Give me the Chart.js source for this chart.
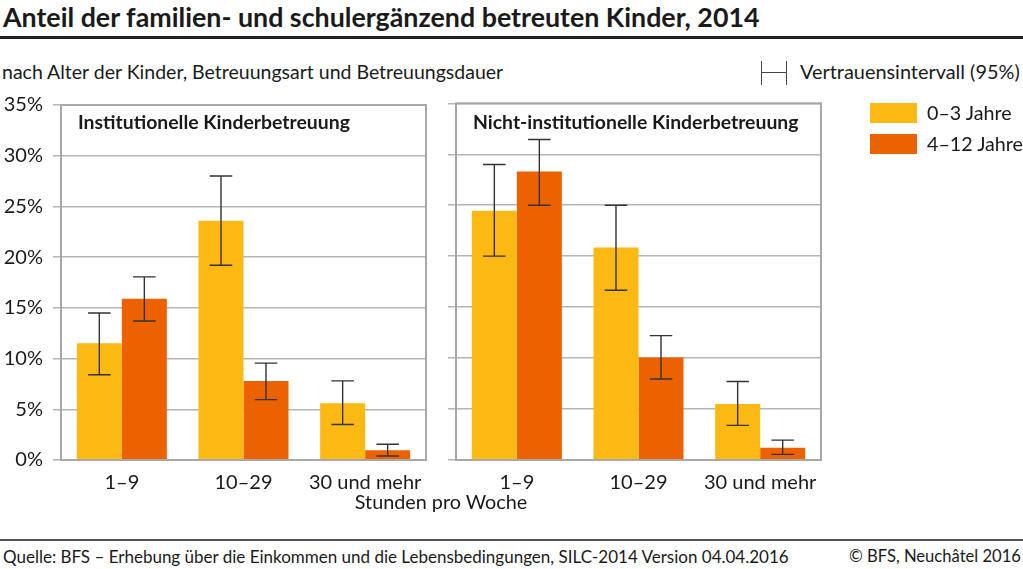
<!DOCTYPE html>
<html>
<head>
<meta charset="utf-8">
<script src="https://cdn.jsdelivr.net/npm/chart.js@4.4.1/dist/chart.umd.min.js"></script>
<style>
  html, body { margin:0; padding:0; background:#fff; }
  body { width:1023px; height:569px; position:relative; overflow:hidden; font-family: Lato, "Open Sans", sans-serif; color:#1a1a1a; }
  .t { position:absolute; white-space:nowrap; line-height:1; }
  canvas { position:absolute; }
</style>
</head>
<body>
<div class="t" id="title" style="left:3px; top:4px; font-size:26.8px; font-weight:bold;">Anteil der familien- und schulergänzend betreuten Kinder, 2014</div>
<div style="position:absolute; left:0; top:36px; width:1023px; height:3px; background:#222;"></div>
<div class="t" id="sub" style="left:2px; top:62px; font-size:19.5px;">nach Alter der Kinder, Betreuungsart und Betreuungsdauer</div>

<!-- CI legend icon -->
<div style="position:absolute; left:761px; top:61px; width:1.2px; height:24px; background:#444;"></div>
<div style="position:absolute; left:786px; top:61px; width:1.2px; height:24px; background:#444;"></div>
<div style="position:absolute; left:761px; top:72px; width:26px; height:1.2px; background:#444;"></div>
<div class="t" style="left:800px; top:62px; font-size:19.9px;">Vertrauensintervall (95%)</div>

<canvas id="c1" width="440" height="417" style="left:0; top:83px;"></canvas>
<canvas id="c2" width="440" height="417" style="left:440px; top:83px;"></canvas>

<div class="t" style="left:78px; top:112px; font-size:19.4px; font-weight:bold;">Institutionelle Kinderbetreuung</div>
<div class="t" style="left:473px; top:112px; font-size:19.4px; font-weight:bold;">Nicht-institutionelle Kinderbetreuung</div>

<div style="position:absolute; left:870px; top:103px; width:47px; height:20px; background:#FDB913;"></div>
<div class="t" style="left:927px; top:103px; font-size:19.7px;">0–3 Jahre</div>
<div style="position:absolute; left:870px; top:134px; width:47px; height:20px; background:#EC6100;"></div>
<div class="t" style="left:927px; top:134px; font-size:19.7px;">4–12 Jahre</div>

<div class="t" style="left:441px; top:492px; font-size:19.8px; transform:translateX(-50%);">Stunden pro Woche</div>

<div style="position:absolute; left:0; top:539px; width:1023px; height:2px; background:#555;"></div>
<div class="t" style="left:3px; top:548px; font-size:17px;">Quelle: BFS – Erhebung über die Einkommen und die Lebensbedingungen, SILC-2014 Version 04.04.2016</div>
<div class="t" style="right:2px; top:548px; font-size:16.6px;">© BFS, Neuchâtel 2016</div>

<script>
const categories = ['1–9', '10–29', '30 und mehr'];
const seriesNames = ['0–3 Jahre', '4–12 Jahre'];
const yTicks = [0, 5, 10, 15, 20, 25, 30, 35];

// Institutionelle Kinderbetreuung
const instYoung     = [11.5, 23.6, 5.6];
const instYoungLow  = [8.4, 19.2, 3.5];
const instYoungHigh = [14.5, 28.0, 7.8];
const instOld       = [15.9, 7.8, 0.95];
const instOldLow    = [13.7, 5.95, 0.4];
const instOldHigh   = [18.05, 9.55, 1.55];

// Nicht-institutionelle Kinderbetreuung
const nonYoung      = [24.45, 20.85, 5.5];
const nonYoungLow   = [20.0, 16.65, 3.4];
const nonYoungHigh  = [29.0, 25.0, 7.7];
const nonOld        = [28.3, 10.05, 1.2];
const nonOldLow     = [25.0, 7.95, 0.55];
const nonOldHigh    = [31.45, 12.2, 1.95];

const YELLOW = '#FDB913';
const ORANGE = '#EC6100';
const FONT = 'Lato, "Open Sans", sans-serif';

const errorBars = {
  id: 'errorBars',
  afterDatasetsDraw(chart) {
    const ctx = chart.ctx;
    const ys = chart.scales.y;
    ctx.save();
    ctx.strokeStyle = '#333';
    ctx.lineWidth = 1.4;
    chart.data.datasets.forEach((ds, i) => {
      const meta = chart.getDatasetMeta(i);
      meta.data.forEach((el, j) => {
        const x = el.x;
        const hw = el.width / 4;
        const yl = ys.getPixelForValue(ds.low[j]);
        const yh = ys.getPixelForValue(ds.high[j]);
        ctx.beginPath();
        ctx.moveTo(x, yl); ctx.lineTo(x, yh);
        ctx.moveTo(x - hw, yl); ctx.lineTo(x + hw, yl);
        ctx.moveTo(x - hw, yh); ctx.lineTo(x + hw, yh);
        ctx.stroke();
      });
    });
    ctx.restore();
  }
};

const frame = {
  id: 'frame',
  afterDraw(chart) {
    const a = chart.chartArea;
    const ys = chart.scales.y;
    const top = ys.getPixelForValue(ys.max);
    const bottom = ys.getPixelForValue(ys.min);
    const ctx = chart.ctx;
    ctx.save();
    ctx.strokeStyle = '#a8a8a8';
    ctx.lineWidth = 2;
    ctx.strokeRect(a.left, top, a.right - a.left, bottom - top);
    ctx.restore();
  }
};

function makeChart(id, young, yLow, yHigh, old, oLow, oHigh, showTicks, leftWidth, rightPad, topPad) {
  return new Chart(document.getElementById(id), {
    type: 'bar',
    data: {
      labels: categories,
      datasets: [
        { label: seriesNames[0], data: young, low: yLow, high: yHigh, backgroundColor: YELLOW, borderWidth: 0 },
        { label: seriesNames[1], data: old, low: oLow, high: oHigh, backgroundColor: ORANGE, borderWidth: 0 }
      ]
    },
    options: {
      responsive: false,
      animation: false,
      devicePixelRatio: 1,
      layout: { padding: { top: topPad, right: rightPad, bottom: 0, left: 0 } },
      datasets: { bar: { categoryPercentage: 0.74, barPercentage: 1.0 } },
      plugins: { legend: { display: false }, tooltip: { enabled: false }, title: { display: false } },
      scales: {
        x: {
          grid: { display: false, drawTicks: false },
          border: { display: false },
          ticks: { color: '#1a1a1a', font: { family: FONT, size: 20 }, padding: 11, maxRotation: 0 },
          afterFit(s) { s.height = 40; }
        },
        y: {
          min: 0, max: 35,
          afterBuildTicks(s) { s.ticks = yTicks.map(v => ({ value: v })); },
          grid: { color: '#b5b5b5', lineWidth: 1.5, tickLength: 8, drawTicks: true },
          border: { display: false },
          ticks: {
            display: showTicks,
            color: '#1a1a1a',
            font: { family: FONT, size: 20 },
            padding: 10,
            callback: v => v + '%'
          },
          afterFit(s) { s.width = leftWidth; }
        }
      }
    },
    plugins: [errorBars, frame]
  });
}

makeChart('c1', instYoung, instYoungLow, instYoungHigh, instOld, instOldLow, instOldHigh, true, 61, 14, 12.6);
makeChart('c2', nonYoung, nonYoungLow, nonYoungHigh, nonOld, nonOldLow, nonOldHigh, false, 16, 59, 20.3);
</script>
</body>
</html>
